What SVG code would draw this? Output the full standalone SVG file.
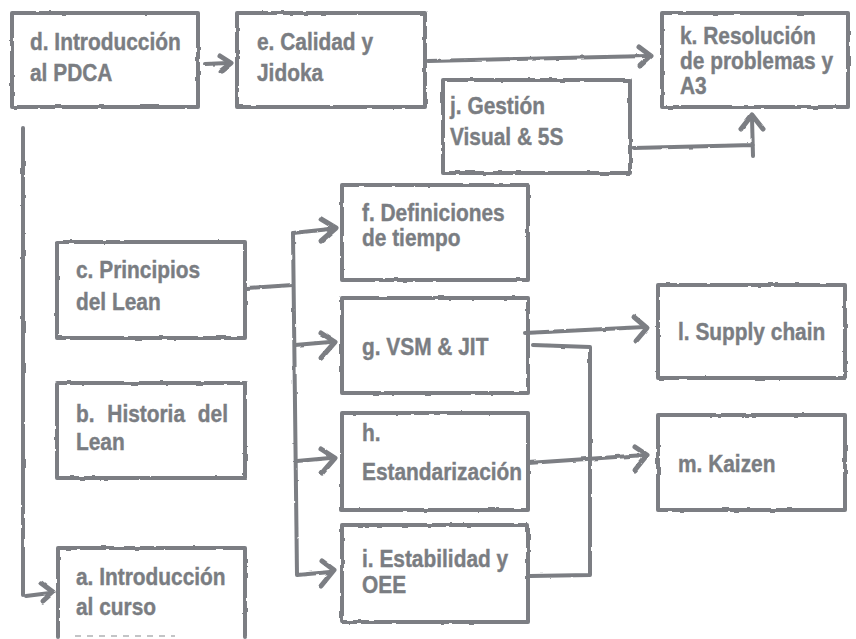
<svg xmlns="http://www.w3.org/2000/svg" width="856" height="639" viewBox="0 0 856 639">
<defs>
<filter id="rough" filterUnits="userSpaceOnUse" x="0" y="0" width="856" height="639">
<feTurbulence type="fractalNoise" baseFrequency="0.09" numOctaves="2" seed="4" result="n"/>
<feDisplacementMap in="SourceGraphic" in2="n" scale="2.5" xChannelSelector="R" yChannelSelector="G"/>
</filter>
<style>
.box{fill:none;stroke:#7b7e83;stroke-width:4;stroke-linejoin:round;stroke-linecap:round}
.ln{fill:none;stroke:#7b7e83;stroke-width:4;stroke-linecap:round;stroke-linejoin:round}
.hd{fill:none;stroke:#7b7e83;stroke-width:5;stroke-linecap:round;stroke-linejoin:round}
.t{font-family:"Liberation Sans",Arial,Helvetica,sans-serif;font-weight:bold;font-size:24px;fill:#7a7d82;stroke:#7a7d82;stroke-width:0.4}
</style>
</defs>
<rect width="856" height="639" fill="#ffffff"/>

<g id="connectors" filter="url(#rough)">
  <!-- d -> e -->
  <path class="ln" d="M205 64 L228 63"/>
  <path class="hd" d="M220 56 L231 63 L221 71"/>
  <!-- e -> k -->
  <path class="ln" d="M428 61 L648 56"/>
  <path class="hd" d="M639 47 L651 56 L640 66"/>
  <!-- j -> k -->
  <path class="ln" d="M634 148 L753 145 M753 156 L752 118"/>
  <path class="hd" d="M741 129 L752 115 L763 129"/>
  <!-- left line to a -->
  <path class="ln" d="M23 128 L23 595"/>
  <path class="ln" d="M26 596 L50 593"/>
  <path class="hd" d="M41 583 L53 592 L43 601"/>
  <!-- c -> bus -->
  <path class="ln" d="M247 288 L293 285"/>
  <path class="ln" d="M293 233 L297 575 L330 572"/>
  <path class="ln" d="M293 233 L330 229"/>
  <path class="hd" d="M321 219 L336 228 L321 241"/>
  <path class="ln" d="M295 345 L330 342"/>
  <path class="hd" d="M321 333 L335 342 L321 358"/>
  <path class="ln" d="M297 461 L330 458"/>
  <path class="hd" d="M321 449 L335 458 L322 473"/>
  <path class="hd" d="M322 561 L334 570 L321 586"/>
  <!-- g -> l -->
  <path class="ln" d="M525 333 L645 327"/>
  <path class="hd" d="M634 317 L647 328 L636 341"/>
  <!-- g - i bracket -->
  <path class="ln" d="M533 345 L590 347 L590 575 L530 576"/>
  <!-- h -> m -->
  <path class="ln" d="M528 463 L645 455"/>
  <path class="hd" d="M635 447 L647 455 L635 470"/>
</g>

<g id="node-d"><rect class="box" x="12" y="13" width="186" height="94" filter="url(#rough)"/>
<text class="t" transform="translate(30,50) scale(0.87,1)"><tspan x="0" y="0">d. Introducción</tspan><tspan x="0" y="31">al PDCA</tspan></text></g>

<g id="node-e"><rect class="box" x="237" y="13" width="188" height="94" filter="url(#rough)"/>
<text class="t" transform="translate(257,50) scale(0.87,1)"><tspan x="0" y="0">e. Calidad y</tspan><tspan x="0" y="31">Jidoka</tspan></text></g>

<g id="node-k"><rect class="box" x="662" y="13" width="186" height="94" filter="url(#rough)"/>
<text class="t" transform="translate(680,44) scale(0.87,1)"><tspan x="0" y="0">k. Resolución</tspan><tspan x="0" y="25">de problemas y</tspan><tspan x="0" y="50">A3</tspan></text></g>

<g id="node-j"><rect class="box" x="443" y="80" width="187" height="93" filter="url(#rough)"/>
<text class="t" transform="translate(450,114) scale(0.87,1)"><tspan x="0" y="0">j. Gestión</tspan><tspan x="0" y="31">Visual &amp; 5S</tspan></text></g>

<g id="node-f"><rect class="box" x="342" y="185" width="186" height="95" filter="url(#rough)"/>
<text class="t" transform="translate(362,221) scale(0.87,1)"><tspan x="0" y="0">f. Definiciones</tspan><tspan x="0" y="25">de tiempo</tspan></text></g>

<g id="node-c"><rect class="box" x="57" y="242" width="188" height="96" filter="url(#rough)"/>
<text class="t" transform="translate(76,278) scale(0.87,1)"><tspan x="0" y="0">c. Principios</tspan><tspan x="0" y="32">del Lean</tspan></text></g>

<g id="node-g"><rect class="box" x="342" y="298" width="186" height="95" filter="url(#rough)"/>
<text class="t" transform="translate(362,355) scale(0.87,1)"><tspan x="0" y="0">g. VSM &amp; JIT</tspan></text></g>

<g id="node-l"><rect class="box" x="658" y="285" width="187" height="93" filter="url(#rough)"/>
<text class="t" transform="translate(678,340) scale(0.87,1)"><tspan x="0" y="0">l. Supply chain</tspan></text></g>

<g id="node-b"><rect class="box" x="57" y="383" width="188" height="95" filter="url(#rough)"/>
<text class="t" transform="translate(76,422) scale(0.87,1)"><tspan x="0" y="0" word-spacing="8">b. Historia del</tspan><tspan x="0" y="28">Lean</tspan></text></g>

<g id="node-h"><rect class="box" x="342" y="413" width="186" height="97" filter="url(#rough)"/>
<text class="t" transform="translate(362,441) scale(0.87,1)"><tspan x="0" y="0">h.</tspan><tspan x="0" y="39">Estandarización</tspan></text></g>

<g id="node-m"><rect class="box" x="658" y="415" width="187" height="95" filter="url(#rough)"/>
<text class="t" transform="translate(678,472) scale(0.87,1)"><tspan x="0" y="0">m. Kaizen</tspan></text></g>

<g id="node-i"><rect class="box" x="342" y="525" width="186" height="97" filter="url(#rough)"/>
<text class="t" transform="translate(362,567) scale(0.87,1)"><tspan x="0" y="0">i. Estabilidad y</tspan><tspan x="0" y="26">OEE</tspan></text></g>

<g id="node-a"><path class="box" d="M58 637 L58 548 L245 548 L245 637" filter="url(#rough)"/>
<path d="M75 636 L175 636" stroke="#7b7e83" stroke-width="2" stroke-dasharray="6 6" opacity="0.45"/>
<text class="t" transform="translate(76,585) scale(0.87,1)"><tspan x="0" y="0">a. Introducción</tspan><tspan x="0" y="30">al curso</tspan></text></g>
</svg>
